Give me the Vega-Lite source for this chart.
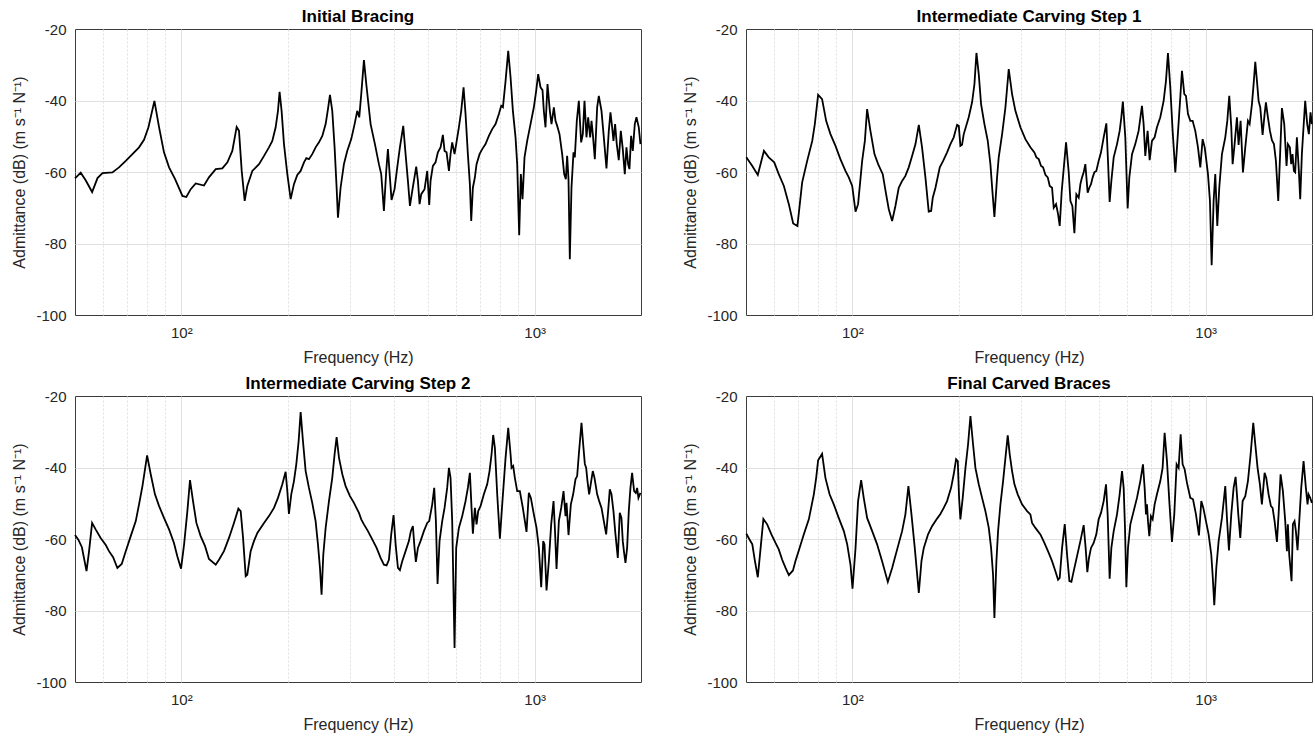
{
"$schema": "https://vega.github.io/schema/vega-lite/v6.json",
"background": "white",
"padding": {"left": 11, "top": 7, "right": 4, "bottom": 2},
"config": {
  "view": {"stroke": "#3c3c3c", "strokeWidth": 1},
  "axis": {"labelFont": "Liberation Sans", "titleFont": "Liberation Sans", "labelFontSize": 15, "titleFontSize": 16, "labelColor": "#262626", "titleColor": "#262626", "titleFontWeight": "normal", "domain": false, "ticks": false, "gridColor": "#e0e0e0", "gridWidth": 1},
  "axisX": {"labelPadding": 10, "titlePadding": 9},
  "axisY": {"labelPadding": 9, "titlePadding": 8},
  "title": {"font": "Liberation Sans", "fontSize": 17, "fontWeight": "bold", "color": "#000000", "offset": -4},
  "line": {"color": "#000000", "strokeWidth": 1.8, "clip": true}
},
"datasets": {"d": [
{"panel":"A","freq":50.0,"dB":-61.8},{"panel":"A","freq":51.9,"dB":-60.2},{"panel":"A","freq":53.6,"dB":-62.3},{"panel":"A","freq":55.9,"dB":-65.6},{"panel":"A","freq":57.9,"dB":-61.7},{"panel":"A","freq":59.8,"dB":-60.3},{"panel":"A","freq":63.8,"dB":-60.1},{"panel":"A","freq":66.6,"dB":-58.7},{"panel":"A","freq":69.6,"dB":-56.9},{"panel":"A","freq":72.7,"dB":-55.0},{"panel":"A","freq":75.9,"dB":-53.1},{"panel":"A","freq":78.4,"dB":-51.0},{"panel":"A","freq":80.7,"dB":-47.5},{"panel":"A","freq":83.9,"dB":-40.1},{"panel":"A","freq":86.5,"dB":-47.5},{"panel":"A","freq":89.3,"dB":-54.5},{"panel":"A","freq":92.3,"dB":-58.7},{"panel":"A","freq":96.0,"dB":-62.0},{"panel":"A","freq":100.7,"dB":-66.7},{"panel":"A","freq":103.3,"dB":-67.0},{"panel":"A","freq":106.3,"dB":-64.8},{"panel":"A","freq":109.8,"dB":-63.2},{"panel":"A","freq":115.9,"dB":-63.8},{"panel":"A","freq":119.7,"dB":-61.5},{"panel":"A","freq":125.1,"dB":-59.2},{"panel":"A","freq":130.6,"dB":-59.0},{"panel":"A","freq":135.0,"dB":-57.3},{"panel":"A","freq":139.4,"dB":-54.1},{"panel":"A","freq":143.4,"dB":-47.4},{"panel":"A","freq":145.6,"dB":-48.5},{"panel":"A","freq":148.2,"dB":-59.7},{"panel":"A","freq":151.1,"dB":-68.1},{"panel":"A","freq":153.7,"dB":-63.9},{"panel":"A","freq":158.8,"dB":-59.7},{"panel":"A","freq":165.9,"dB":-57.8},
{"panel":"A","freq":171.4,"dB":-55.5},{"panel":"A","freq":177.0,"dB":-53.1},{"panel":"A","freq":180.9,"dB":-51.3},{"panel":"A","freq":184.9,"dB":-47.5},{"panel":"A","freq":187.7,"dB":-42.9},{"panel":"A","freq":189.7,"dB":-37.6},{"panel":"A","freq":192.2,"dB":-42.9},{"panel":"A","freq":195.2,"dB":-52.2},{"panel":"A","freq":199.5,"dB":-60.6},{"panel":"A","freq":203.9,"dB":-67.6},{"panel":"A","freq":208.3,"dB":-63.4},{"panel":"A","freq":212.9,"dB":-60.8},{"panel":"A","freq":217.6,"dB":-59.7},{"panel":"A","freq":222.4,"dB":-57.3},{"panel":"A","freq":225.8,"dB":-56.1},{"panel":"A","freq":229.7,"dB":-56.4},{"panel":"A","freq":234.7,"dB":-55.0},{"panel":"A","freq":239.9,"dB":-53.1},{"panel":"A","freq":245.2,"dB":-51.7},{"panel":"A","freq":250.6,"dB":-49.9},{"panel":"A","freq":256.1,"dB":-46.6},{"panel":"A","freq":260.0,"dB":-42.4},{"panel":"A","freq":263.4,"dB":-38.4},{"panel":"A","freq":267.4,"dB":-42.9},{"panel":"A","freq":271.5,"dB":-53.1},{"panel":"A","freq":275.1,"dB":-64.4},{"panel":"A","freq":277.5,"dB":-72.8},{"panel":"A","freq":282.3,"dB":-64.4},{"panel":"A","freq":288.5,"dB":-57.8},{"panel":"A","freq":294.8,"dB":-54.1},{"panel":"A","freq":302.6,"dB":-50.8},{"panel":"A","freq":309.3,"dB":-46.6},{"panel":"A","freq":314.7,"dB":-42.9},{"panel":"A","freq":318.8,"dB":-44.7},{"panel":"A","freq":323.0,"dB":-38.2},{"panel":"A","freq":328.7,"dB":-28.7},{"panel":"A","freq":334.5,"dB":-36.3},{"panel":"A","freq":343.3,"dB":-46.6},{"panel":"A","freq":353.1,"dB":-52.2},{"panel":"A","freq":362.4,"dB":-57.8},{"panel":"A","freq":367.9,"dB":-60.6},{"panel":"A","freq":374.4,"dB":-70.9},{"panel":"A","freq":380.1,"dB":-59.7},{"panel":"A","freq":384.3,"dB":-53.6},{"panel":"A","freq":389.3,"dB":-61.5},{"panel":"A","freq":393.5,"dB":-67.8},{"panel":"A","freq":401.3,"dB":-64.8},{"panel":"A","freq":408.4,"dB":-58.7},{"panel":"A","freq":415.5,"dB":-53.1},{"panel":"A","freq":424.7,"dB":-47.1},{"panel":"A","freq":431.2,"dB":-55.0},{"panel":"A","freq":437.8,"dB":-62.5},{"panel":"A","freq":443.6,"dB":-69.5},{"panel":"A","freq":450.4,"dB":-65.3},{"panel":"A","freq":455.2,"dB":-62.5},{"panel":"A","freq":462.2,"dB":-58.5},{"panel":"A","freq":467.3,"dB":-62.5},{"panel":"A","freq":472.4,"dB":-69.0},{"panel":"A","freq":477.5,"dB":-66.2},{"panel":"A","freq":488.0,"dB":-64.8},{"panel":"A","freq":496.5,"dB":-59.7},{"panel":"A","freq":503.0,"dB":-69.2},{"panel":"A","freq":507.4,"dB":-62.5},{"panel":"A","freq":515.2,"dB":-58.3},{"panel":"A","freq":524.2,"dB":-57.3},{"panel":"A","freq":532.2,"dB":-54.5},{"panel":"A","freq":541.5,"dB":-53.1},{"panel":"A","freq":549.9,"dB":-49.6},{"panel":"A","freq":555.9,"dB":-54.1},{"panel":"A","freq":563.2,"dB":-54.5},
{"panel":"A","freq":572.0,"dB":-59.7},{"panel":"A","freq":578.0,"dB":-55.0},{"panel":"A","freq":584.3,"dB":-51.7},{"panel":"A","freq":593.3,"dB":-55.0},{"panel":"A","freq":599.7,"dB":-52.2},{"panel":"A","freq":610.3,"dB":-47.5},{"panel":"A","freq":619.7,"dB":-42.9},{"panel":"A","freq":629.2,"dB":-36.3},{"panel":"A","freq":637.4,"dB":-43.8},{"panel":"A","freq":647.1,"dB":-55.0},{"panel":"A","freq":655.7,"dB":-63.4},{"panel":"A","freq":661.4,"dB":-73.7},{"panel":"A","freq":668.6,"dB":-64.4},{"panel":"A","freq":677.4,"dB":-61.5},{"panel":"A","freq":684.8,"dB":-57.8},{"panel":"A","freq":698.3,"dB":-55.0},{"panel":"A","freq":710.6,"dB":-53.6},{"panel":"A","freq":726.1,"dB":-52.2},{"panel":"A","freq":742.1,"dB":-49.9},{"panel":"A","freq":758.4,"dB":-48.0},{"panel":"A","freq":775.1,"dB":-46.6},{"panel":"A","freq":792.1,"dB":-43.8},{"panel":"A","freq":804.3,"dB":-41.5},{"panel":"A","freq":813.2,"dB":-41.9},{"panel":"A","freq":827.4,"dB":-34.5},{"panel":"A","freq":841.8,"dB":-26.1},{"panel":"A","freq":854.7,"dB":-33.5},{"panel":"A","freq":867.8,"dB":-42.9},{"panel":"A","freq":882.9,"dB":-50.3},{"panel":"A","freq":892.5,"dB":-57.8},{"panel":"A","freq":904.2,"dB":-77.7},{"panel":"A","freq":914.0,"dB":-60.6},{"panel":"A","freq":924.0,"dB":-67.6},{"panel":"A","freq":936.1,"dB":-55.9},{"panel":"A","freq":952.6,"dB":-51.3},{"panel":"A","freq":973.5,"dB":-46.6},{"panel":"A","freq":994.8,"dB":-41.9},{"panel":"A","freq":1010.1,"dB":-37.3},{"panel":"A","freq":1023.2,"dB":-32.6},{"panel":"A","freq":1038.9,"dB":-36.3},{"panel":"A","freq":1052.6,"dB":-37.1},{"panel":"A","freq":1061.7,"dB":-42.9},{"panel":"A","freq":1073.3,"dB":-47.5},{"panel":"A","freq":1087.4,"dB":-35.4},{"panel":"A","freq":1104.1,"dB":-42.9},{"panel":"A","freq":1116.1,"dB":-46.6},{"panel":"A","freq":1133.3,"dB":-41.9},{"panel":"A","freq":1145.6,"dB":-45.7},{"panel":"A","freq":1158.1,"dB":-47.1},{"panel":"A","freq":1175.9,"dB":-49.4},{"panel":"A","freq":1196.5,"dB":-55.0},{"panel":"A","freq":1212.3,"dB":-60.6},{"panel":"A","freq":1225.5,"dB":-62.0},{"panel":"A","freq":1236.0,"dB":-55.5},{"panel":"A","freq":1246.8,"dB":-62.0},{"panel":"A","freq":1257.6,"dB":-84.4},{"panel":"A","freq":1271.3,"dB":-64.4},{"panel":"A","freq":1288.1,"dB":-54.5},{"panel":"A","freq":1299.2,"dB":-55.9},{"panel":"A","freq":1316.3,"dB":-45.7},{"panel":"A","freq":1333.6,"dB":-40.1},{"panel":"A","freq":1354.1,"dB":-51.7},{"panel":"A","freq":1368.9,"dB":-49.4},{"panel":"A","freq":1383.9,"dB":-40.1},{"panel":"A","freq":1401.9,"dB":-50.3},{"panel":"A","freq":1417.4,"dB":-44.7},{"panel":"A","freq":1436.0,"dB":-50.3},{"panel":"A","freq":1448.6,"dB":-45.7},{"panel":"A","freq":1461.0,"dB":-49.4},{"panel":"A","freq":1480.2,"dB":-56.4},{"panel":"A","freq":1502.9,"dB":-41.9},{"panel":"A","freq":1519.2,"dB":-38.7},{"panel":"A","freq":1546.0,"dB":-42.9},{"panel":"A","freq":1569.6,"dB":-50.3},{"panel":"A","freq":1596.9,"dB":-59.0},{"panel":"A","freq":1621.4,"dB":-48.5},{"panel":"A","freq":1639.1,"dB":-43.3},{"panel":"A","freq":1657.1,"dB":-47.5},{"panel":"A","freq":1671.4,"dB":-51.3},{"panel":"A","freq":1689.5,"dB":-46.6},{"panel":"A","freq":1707.8,"dB":-52.2},{"panel":"A","freq":1730.3,"dB":-56.7},{"panel":"A","freq":1753.3,"dB":-48.5},{"panel":"A","freq":1776.1,"dB":-53.6},{"panel":"A","freq":1799.5,"dB":-60.6},{"panel":"A","freq":1819.1,"dB":-53.1},{"panel":"A","freq":1838.9,"dB":-57.8},{"panel":"A","freq":1855.0,"dB":-59.2},{"panel":"A","freq":1875.3,"dB":-49.9},{"panel":"A","freq":1895.7,"dB":-54.1},{"panel":"A","freq":1920.7,"dB":-46.6},{"panel":"A","freq":1941.6,"dB":-44.7},{"panel":"A","freq":1971.4,"dB":-47.5},{"panel":"A","freq":1992.6,"dB":-52.2},
{"panel":"B","freq":50.1,"dB":-55.9},{"panel":"B","freq":52.1,"dB":-58.3},{"panel":"B","freq":54.0,"dB":-60.8},{"panel":"B","freq":56.2,"dB":-54.1},{"panel":"B","freq":58.0,"dB":-55.9},{"panel":"B","freq":60.1,"dB":-57.3},{"panel":"B","freq":61.9,"dB":-60.6},{"panel":"B","freq":64.0,"dB":-63.9},{"panel":"B","freq":66.1,"dB":-69.0},{"panel":"B","freq":68.0,"dB":-74.4},{"panel":"B","freq":69.9,"dB":-75.1},{"panel":"B","freq":72.1,"dB":-62.9},{"panel":"B","freq":74.5,"dB":-56.9},{"panel":"B","freq":77.0,"dB":-51.3},{"panel":"B","freq":78.3,"dB":-46.6},{"panel":"B","freq":80.0,"dB":-38.4},{"panel":"B","freq":82.1,"dB":-39.6},{"panel":"B","freq":84.3,"dB":-45.7},{"panel":"B","freq":86.7,"dB":-49.4},{"panel":"B","freq":89.6,"dB":-52.7},{"panel":"B","freq":92.5,"dB":-56.4},{"panel":"B","freq":95.6,"dB":-59.7},{"panel":"B","freq":97.7,"dB":-61.5},{"panel":"B","freq":99.9,"dB":-63.9},{"panel":"B","freq":102.1,"dB":-71.1},{"panel":"B","freq":103.8,"dB":-69.0},{"panel":"B","freq":106.6,"dB":-56.9},{"panel":"B","freq":108.5,"dB":-51.3},{"panel":"B","freq":110.1,"dB":-42.4},{"panel":"B","freq":112.5,"dB":-48.5},{"panel":"B","freq":115.5,"dB":-55.0},{"panel":"B","freq":118.3,"dB":-57.8},{"panel":"B","freq":121.9,"dB":-60.6},{"panel":"B","freq":124.6,"dB":-66.2},{"panel":"B","freq":126.8,"dB":-70.4},{"panel":"B","freq":129.6,"dB":-73.7},{"panel":"B","freq":132.4,"dB":-69.5},{"panel":"B","freq":135.3,"dB":-64.4},{"panel":"B","freq":138.3,"dB":-62.5},{"panel":"B","freq":141.3,"dB":-61.1},{"panel":"B","freq":144.4,"dB":-58.7},{"panel":"B","freq":147.6,"dB":-55.5},{"panel":"B","freq":150.9,"dB":-52.2},{"panel":"B","freq":154.2,"dB":-46.8},{"panel":"B","freq":157.5,"dB":-53.1},{"panel":"B","freq":161.0,"dB":-61.5},{"panel":"B","freq":164.5,"dB":-71.1},{"panel":"B","freq":167.1,"dB":-70.9},{"panel":"B","freq":168.9,"dB":-67.2},{"panel":"B","freq":171.9,"dB":-64.4},
{"panel":"B","freq":176.8,"dB":-58.7},{"panel":"B","freq":180.7,"dB":-56.9},{"panel":"B","freq":185.4,"dB":-54.5},{"panel":"B","freq":189.5,"dB":-52.2},{"panel":"B","freq":193.6,"dB":-50.3},{"panel":"B","freq":197.9,"dB":-46.8},{"panel":"B","freq":200.1,"dB":-47.1},{"panel":"B","freq":202.2,"dB":-52.7},{"panel":"B","freq":204.4,"dB":-52.4},{"panel":"B","freq":206.7,"dB":-49.4},{"panel":"B","freq":213.5,"dB":-44.7},{"panel":"B","freq":218.2,"dB":-40.5},{"panel":"B","freq":221.6,"dB":-35.4},{"panel":"B","freq":224.5,"dB":-26.7},{"panel":"B","freq":227.9,"dB":-32.6},{"panel":"B","freq":231.4,"dB":-41.0},{"panel":"B","freq":236.5,"dB":-46.6},{"panel":"B","freq":241.7,"dB":-51.3},{"panel":"B","freq":245.9,"dB":-57.8},{"panel":"B","freq":249.1,"dB":-65.3},{"panel":"B","freq":252.4,"dB":-72.6},{"panel":"B","freq":256.8,"dB":-61.5},{"panel":"B","freq":259.6,"dB":-55.9},{"panel":"B","freq":265.4,"dB":-49.4},{"panel":"B","freq":271.2,"dB":-41.9},{"panel":"B","freq":277.1,"dB":-31.2},{"panel":"B","freq":283.2,"dB":-38.2},{"panel":"B","freq":289.4,"dB":-42.9},{"panel":"B","freq":299.0,"dB":-47.5},{"panel":"B","freq":308.9,"dB":-50.8},{"panel":"B","freq":319.1,"dB":-53.1},{"panel":"B","freq":327.5,"dB":-54.5},{"panel":"B","freq":331.9,"dB":-55.9},{"panel":"B","freq":336.9,"dB":-56.4},{"panel":"B","freq":342.1,"dB":-58.3},{"panel":"B","freq":346.6,"dB":-58.7},{"panel":"B","freq":351.9,"dB":-60.8},{"panel":"B","freq":357.3,"dB":-61.5},{"panel":"B","freq":362.0,"dB":-63.9},{"panel":"B","freq":367.5,"dB":-64.4},{"panel":"B","freq":371.5,"dB":-70.0},{"panel":"B","freq":377.2,"dB":-69.0},{"panel":"B","freq":382.2,"dB":-71.8},{"panel":"B","freq":386.3,"dB":-75.1},{"panel":"B","freq":391.4,"dB":-65.3},{"panel":"B","freq":402.6,"dB":-51.7},{"panel":"B","freq":409.7,"dB":-60.1},{"panel":"B","freq":414.2,"dB":-68.1},{"panel":"B","freq":419.5,"dB":-69.5},{"panel":"B","freq":425.1,"dB":-77.1},{"panel":"B","freq":430.5,"dB":-66.2},{"panel":"B","freq":437.2,"dB":-67.2},{"panel":"B","freq":442.0,"dB":-63.4},{"panel":"B","freq":446.8,"dB":-61.5},{"panel":"B","freq":451.6,"dB":-60.1},{"panel":"B","freq":456.5,"dB":-57.8},{"panel":"B","freq":463.5,"dB":-65.8},{"panel":"B","freq":468.6,"dB":-64.4},{"panel":"B","freq":473.7,"dB":-63.4},{"panel":"B","freq":478.9,"dB":-61.5},{"panel":"B","freq":484.1,"dB":-60.1},{"panel":"B","freq":490.4,"dB":-59.7},{"panel":"B","freq":497.9,"dB":-56.9},{"panel":"B","freq":505.6,"dB":-54.5},{"panel":"B","freq":514.5,"dB":-50.3},{"panel":"B","freq":523.5,"dB":-46.4},{"panel":"B","freq":529.2,"dB":-56.9},{"panel":"B","freq":534.9,"dB":-68.4},{"panel":"B","freq":540.9,"dB":-62.5},{"panel":"B","freq":549.2,"dB":-55.9},{"panel":"B","freq":561.2,"dB":-52.2},{"panel":"B","freq":571.0,"dB":-48.5},{"panel":"B","freq":577.2,"dB":-44.7},
{"panel":"B","freq":583.0,"dB":-40.3},{"panel":"B","freq":592.4,"dB":-50.3},{"panel":"B","freq":601.5,"dB":-70.2},{"panel":"B","freq":608.1,"dB":-61.5},{"panel":"B","freq":618.9,"dB":-55.0},{"panel":"B","freq":632.2,"dB":-52.2},{"panel":"B","freq":646.0,"dB":-48.5},{"panel":"B","freq":660.3,"dB":-41.5},{"panel":"B","freq":667.5,"dB":-46.6},{"panel":"B","freq":674.8,"dB":-55.5},{"panel":"B","freq":685.1,"dB":-48.5},{"panel":"B","freq":694.2,"dB":-56.7},{"panel":"B","freq":704.8,"dB":-51.3},{"panel":"B","freq":717.1,"dB":-50.3},{"panel":"B","freq":728.1,"dB":-47.5},{"panel":"B","freq":744.1,"dB":-44.7},{"panel":"B","freq":760.5,"dB":-40.1},{"panel":"B","freq":772.2,"dB":-34.5},{"panel":"B","freq":782.2,"dB":-26.7},{"panel":"B","freq":794.2,"dB":-36.3},{"panel":"B","freq":806.4,"dB":-48.5},{"panel":"B","freq":820.6,"dB":-60.1},{"panel":"B","freq":833.2,"dB":-50.3},{"panel":"B","freq":847.7,"dB":-39.1},{"panel":"B","freq":857.0,"dB":-31.7},{"panel":"B","freq":870.1,"dB":-38.2},{"panel":"B","freq":879.6,"dB":-38.7},{"panel":"B","freq":891.2,"dB":-43.8},{"panel":"B","freq":904.9,"dB":-45.7},{"panel":"B","freq":918.7,"dB":-45.7},{"panel":"B","freq":934.7,"dB":-48.5},{"panel":"B","freq":951.2,"dB":-53.1},{"panel":"B","freq":965.8,"dB":-58.7},{"panel":"B","freq":980.6,"dB":-50.8},{"panel":"B","freq":993.6,"dB":-53.1},{"panel":"B","freq":1002.0,"dB":-55.9},{"panel":"B","freq":1015.3,"dB":-60.6},{"panel":"B","freq":1028.5,"dB":-68.1},{"panel":"B","freq":1039.9,"dB":-86.1},{"panel":"B","freq":1053.3,"dB":-68.1},{"panel":"B","freq":1064.7,"dB":-60.6},{"panel":"B","freq":1078.8,"dB":-75.1},{"panel":"B","freq":1092.8,"dB":-64.4},{"panel":"B","freq":1112.1,"dB":-55.0},{"panel":"B","freq":1136.5,"dB":-50.3},{"panel":"B","freq":1151.5,"dB":-45.7},{"panel":"B","freq":1166.4,"dB":-38.7},{"panel":"B","freq":1181.8,"dB":-47.5},{"panel":"B","freq":1192.2,"dB":-57.8},{"panel":"B","freq":1207.7,"dB":-52.2},{"panel":"B","freq":1226.2,"dB":-44.7},{"panel":"B","freq":1239.5,"dB":-52.4},{"panel":"B","freq":1255.9,"dB":-45.7},{"panel":"B","freq":1275.1,"dB":-60.1},{"panel":"B","freq":1294.7,"dB":-53.1},{"panel":"B","freq":1317.3,"dB":-45.7},{"panel":"B","freq":1331.9,"dB":-46.6},{"panel":"B","freq":1352.3,"dB":-41.0},{"panel":"B","freq":1367.0,"dB":-35.4},{"panel":"B","freq":1381.9,"dB":-29.2},{"panel":"B","freq":1397.0,"dB":-34.5},{"panel":"B","freq":1412.1,"dB":-40.1},{"panel":"B","freq":1427.5,"dB":-41.9},{"panel":"B","freq":1449.4,"dB":-49.6},{"panel":"B","freq":1468.5,"dB":-43.8},{"panel":"B","freq":1481.1,"dB":-40.5},{"panel":"B","freq":1500.6,"dB":-44.7},{"panel":"B","freq":1520.5,"dB":-48.5},{"panel":"B","freq":1540.2,"dB":-51.1},{"panel":"B","freq":1560.6,"dB":-52.2},{"panel":"B","freq":1580.8,"dB":-56.9},{"panel":"B","freq":1605.0,"dB":-68.1},{"panel":"B","freq":1626.2,"dB":-54.1},{"panel":"B","freq":1643.9,"dB":-42.1},{"panel":"B","freq":1669.1,"dB":-46.6},{"panel":"B","freq":1694.2,"dB":-58.3},{"panel":"B","freq":1709.1,"dB":-52.2},{"panel":"B","freq":1731.3,"dB":-53.1},{"panel":"B","freq":1746.5,"dB":-57.8},{"panel":"B","freq":1761.8,"dB":-55.0},{"panel":"B","freq":1777.3,"dB":-59.7},{"panel":"B","freq":1792.5,"dB":-60.1},{"panel":"B","freq":1812.4,"dB":-50.3},{"panel":"B","freq":1835.9,"dB":-59.7},{"panel":"B","freq":1852.1,"dB":-67.6},{"panel":"B","freq":1872.2,"dB":-55.0},{"panel":"B","freq":1892.6,"dB":-47.5},{"panel":"B","freq":1913.2,"dB":-40.1},{"panel":"B","freq":1938.5,"dB":-46.6},{"panel":"B","freq":1959.6,"dB":-49.4},{"panel":"B","freq":1980.9,"dB":-43.3},{"panel":"B","freq":1998.3,"dB":-46.6},
{"panel":"C","freq":50.0,"dB":-58.9},{"panel":"C","freq":51.1,"dB":-60.2},{"panel":"C","freq":52.3,"dB":-62.3},{"panel":"C","freq":53.9,"dB":-69.0},{"panel":"C","freq":54.8,"dB":-63.4},{"panel":"C","freq":55.9,"dB":-55.5},{"panel":"C","freq":57.2,"dB":-57.3},{"panel":"C","freq":59.1,"dB":-59.7},{"panel":"C","freq":61.1,"dB":-61.7},{"panel":"C","freq":62.4,"dB":-63.4},{"panel":"C","freq":64.1,"dB":-65.1},{"panel":"C","freq":65.9,"dB":-68.1},{"panel":"C","freq":67.8,"dB":-67.0},{"panel":"C","freq":69.6,"dB":-63.4},{"panel":"C","freq":71.9,"dB":-59.2},{"panel":"C","freq":74.3,"dB":-55.0},{"panel":"C","freq":75.9,"dB":-50.3},{"panel":"C","freq":77.6,"dB":-45.2},{"panel":"C","freq":80.0,"dB":-36.6},{"panel":"C","freq":81.9,"dB":-41.9},{"panel":"C","freq":84.2,"dB":-47.5},{"panel":"C","freq":86.5,"dB":-50.8},{"panel":"C","freq":89.3,"dB":-54.1},{"panel":"C","freq":92.3,"dB":-57.3},{"panel":"C","freq":95.3,"dB":-61.1},{"panel":"C","freq":97.4,"dB":-64.8},{"panel":"C","freq":99.8,"dB":-68.3},{"panel":"C","freq":101.8,"dB":-61.5},{"panel":"C","freq":104.0,"dB":-52.2},{"panel":"C","freq":105.8,"dB":-43.5},{"panel":"C","freq":107.9,"dB":-49.4},{"panel":"C","freq":110.3,"dB":-55.5},{"panel":"C","freq":113.4,"dB":-59.2},{"panel":"C","freq":116.7,"dB":-62.0},{"panel":"C","freq":119.7,"dB":-65.6},{"panel":"C","freq":125.1,"dB":-67.2},{"panel":"C","freq":127.8,"dB":-65.8},{"panel":"C","freq":132.0,"dB":-63.4},{"panel":"C","freq":136.4,"dB":-59.7},{"panel":"C","freq":140.9,"dB":-55.5},{"panel":"C","freq":145.0,"dB":-51.5},{"panel":"C","freq":147.2,"dB":-52.2},{"panel":"C","freq":149.5,"dB":-59.7},{"panel":"C","freq":152.1,"dB":-70.4},{"panel":"C","freq":153.7,"dB":-70.0},{"panel":"C","freq":157.1,"dB":-63.4},{"panel":"C","freq":160.5,"dB":-60.6},{"panel":"C","freq":164.1,"dB":-58.3},
{"panel":"C","freq":171.4,"dB":-55.5},{"panel":"C","freq":177.0,"dB":-53.6},{"panel":"C","freq":182.9,"dB":-51.3},{"panel":"C","freq":187.7,"dB":-48.5},{"panel":"C","freq":193.1,"dB":-44.7},{"panel":"C","freq":197.3,"dB":-41.2},{"panel":"C","freq":199.5,"dB":-46.6},{"panel":"C","freq":201.6,"dB":-53.0},{"panel":"C","freq":204.7,"dB":-47.5},{"panel":"C","freq":208.3,"dB":-43.8},{"panel":"C","freq":211.5,"dB":-39.1},{"panel":"C","freq":214.8,"dB":-32.6},{"panel":"C","freq":217.6,"dB":-24.5},{"panel":"C","freq":220.9,"dB":-32.6},{"panel":"C","freq":224.8,"dB":-41.0},{"panel":"C","freq":229.7,"dB":-45.7},{"panel":"C","freq":234.7,"dB":-49.9},{"panel":"C","freq":239.9,"dB":-55.0},{"panel":"C","freq":243.6,"dB":-61.5},{"panel":"C","freq":246.8,"dB":-68.1},{"panel":"C","freq":249.4,"dB":-75.6},{"panel":"C","freq":252.2,"dB":-64.4},{"panel":"C","freq":256.1,"dB":-56.9},{"panel":"C","freq":261.7,"dB":-49.4},{"panel":"C","freq":267.4,"dB":-42.9},{"panel":"C","freq":271.5,"dB":-36.3},{"panel":"C","freq":275.1,"dB":-31.5},{"panel":"C","freq":279.4,"dB":-37.3},{"panel":"C","freq":285.5,"dB":-41.9},{"panel":"C","freq":291.7,"dB":-45.2},{"panel":"C","freq":300.1,"dB":-48.0},{"panel":"C","freq":308.0,"dB":-49.9},{"panel":"C","freq":318.2,"dB":-52.7},{"panel":"C","freq":323.0,"dB":-54.5},{"panel":"C","freq":328.7,"dB":-55.9},{"panel":"C","freq":337.4,"dB":-57.8},{"panel":"C","freq":347.0,"dB":-60.1},{"panel":"C","freq":357.0,"dB":-62.5},{"panel":"C","freq":366.4,"dB":-65.3},{"panel":"C","freq":374.4,"dB":-67.2},{"panel":"C","freq":381.0,"dB":-67.4},{"panel":"C","freq":386.8,"dB":-65.8},{"panel":"C","freq":392.7,"dB":-58.7},{"panel":"C","freq":398.7,"dB":-53.3},{"panel":"C","freq":404.1,"dB":-61.5},{"panel":"C","freq":410.2,"dB":-68.1},{"panel":"C","freq":415.5,"dB":-68.7},{"panel":"C","freq":421.9,"dB":-66.2},{"panel":"C","freq":431.2,"dB":-63.4},{"panel":"C","freq":440.6,"dB":-60.6},{"panel":"C","freq":446.3,"dB":-57.8},{"panel":"C","freq":452.2,"dB":-56.4},{"panel":"C","freq":457.1,"dB":-62.5},{"panel":"C","freq":461.1,"dB":-66.4},{"panel":"C","freq":467.3,"dB":-62.5},{"panel":"C","freq":475.3,"dB":-60.6},{"panel":"C","freq":485.8,"dB":-57.8},{"panel":"C","freq":496.5,"dB":-55.5},{"panel":"C","freq":503.0,"dB":-55.0},{"panel":"C","freq":513.0,"dB":-50.3},{"panel":"C","freq":519.7,"dB":-45.7},{"panel":"C","freq":525.4,"dB":-55.0},{"panel":"C","freq":531.1,"dB":-72.6},{"panel":"C","freq":538.0,"dB":-60.6},{"panel":"C","freq":547.5,"dB":-55.0},{"panel":"C","freq":555.9,"dB":-51.3},{"panel":"C","freq":565.5,"dB":-45.7},
{"panel":"C","freq":572.0,"dB":-40.1},{"panel":"C","freq":578.0,"dB":-42.9},{"panel":"C","freq":584.3,"dB":-55.0},{"panel":"C","freq":593.3,"dB":-90.5},{"panel":"C","freq":599.7,"dB":-62.5},{"panel":"C","freq":610.3,"dB":-56.9},{"panel":"C","freq":623.7,"dB":-53.6},{"panel":"C","freq":637.4,"dB":-49.4},{"panel":"C","freq":647.1,"dB":-45.7},{"panel":"C","freq":655.7,"dB":-41.5},{"panel":"C","freq":662.8,"dB":-51.3},{"panel":"C","freq":668.6,"dB":-58.5},{"panel":"C","freq":677.4,"dB":-51.3},{"panel":"C","freq":684.8,"dB":-55.9},{"panel":"C","freq":692.2,"dB":-52.2},{"panel":"C","freq":702.8,"dB":-50.8},{"panel":"C","freq":718.2,"dB":-47.5},{"panel":"C","freq":734.0,"dB":-44.7},{"panel":"C","freq":745.3,"dB":-41.0},{"panel":"C","freq":755.1,"dB":-36.3},{"panel":"C","freq":763.3,"dB":-30.9},{"panel":"C","freq":771.7,"dB":-34.5},{"panel":"C","freq":783.5,"dB":-47.5},{"panel":"C","freq":797.3,"dB":-59.9},{"panel":"C","freq":809.5,"dB":-50.3},{"panel":"C","freq":827.3,"dB":-37.3},{"panel":"C","freq":841.8,"dB":-28.9},{"panel":"C","freq":854.7,"dB":-36.3},{"panel":"C","freq":860.2,"dB":-40.1},{"panel":"C","freq":869.6,"dB":-39.6},{"panel":"C","freq":879.0,"dB":-42.9},{"panel":"C","freq":892.5,"dB":-46.6},{"panel":"C","freq":908.0,"dB":-46.6},{"panel":"C","freq":925.9,"dB":-51.3},{"panel":"C","freq":948.4,"dB":-58.0},{"panel":"C","freq":962.9,"dB":-47.1},{"panel":"C","freq":975.6,"dB":-48.5},{"panel":"C","freq":994.8,"dB":-53.1},{"panel":"C","freq":1012.3,"dB":-56.9},{"panel":"C","freq":1027.8,"dB":-62.5},{"panel":"C","freq":1043.6,"dB":-73.5},{"panel":"C","freq":1057.4,"dB":-60.6},{"panel":"C","freq":1066.4,"dB":-61.5},{"panel":"C","freq":1080.5,"dB":-74.4},{"panel":"C","freq":1097.0,"dB":-66.2},{"panel":"C","freq":1113.8,"dB":-55.9},{"panel":"C","freq":1131.0,"dB":-49.4},{"panel":"C","freq":1140.9,"dB":-56.9},{"panel":"C","freq":1153.3,"dB":-68.4},{"panel":"C","freq":1171.0,"dB":-55.0},{"panel":"C","freq":1188.9,"dB":-51.3},{"panel":"C","freq":1207.2,"dB":-46.6},{"panel":"C","freq":1222.9,"dB":-53.6},{"panel":"C","freq":1231.0,"dB":-49.9},{"panel":"C","freq":1247.0,"dB":-58.9},{"panel":"C","freq":1266.1,"dB":-50.3},{"panel":"C","freq":1285.2,"dB":-47.5},{"panel":"C","freq":1304.9,"dB":-43.3},{"panel":"C","freq":1319.2,"dB":-42.4},{"panel":"C","freq":1333.8,"dB":-36.3},{"panel":"C","freq":1357.0,"dB":-27.5},{"panel":"C","freq":1372.0,"dB":-33.5},{"panel":"C","freq":1386.9,"dB":-39.0},{"panel":"C","freq":1399.1,"dB":-40.1},{"panel":"C","freq":1411.1,"dB":-43.8},{"panel":"C","freq":1426.5,"dB":-47.5},{"panel":"C","freq":1448.4,"dB":-43.3},{"panel":"C","freq":1460.8,"dB":-41.0},{"panel":"C","freq":1477.0,"dB":-42.9},{"panel":"C","freq":1503.0,"dB":-47.5},{"panel":"C","freq":1522.8,"dB":-49.4},{"panel":"C","freq":1546.1,"dB":-51.3},{"panel":"C","freq":1569.7,"dB":-55.0},{"panel":"C","freq":1593.8,"dB":-58.7},{"panel":"C","freq":1614.3,"dB":-52.2},{"panel":"C","freq":1631.9,"dB":-46.1},{"panel":"C","freq":1649.8,"dB":-47.5},{"panel":"C","freq":1671.4,"dB":-52.2},{"panel":"C","freq":1693.4,"dB":-58.7},{"panel":"C","freq":1719.4,"dB":-65.3},{"panel":"C","freq":1741.7,"dB":-52.7},{"panel":"C","freq":1760.6,"dB":-54.1},{"panel":"C","freq":1776.1,"dB":-60.6},{"panel":"C","freq":1791.7,"dB":-63.9},{"panel":"C","freq":1807.5,"dB":-66.7},{"panel":"C","freq":1827.1,"dB":-62.5},{"panel":"C","freq":1847.0,"dB":-52.2},{"panel":"C","freq":1867.1,"dB":-45.7},{"panel":"C","freq":1887.4,"dB":-41.5},{"panel":"C","freq":1912.3,"dB":-46.6},{"panel":"C","freq":1933.2,"dB":-47.1},{"panel":"C","freq":1950.2,"dB":-45.7},{"panel":"C","freq":1966.9,"dB":-48.5},{"panel":"C","freq":1992.6,"dB":-47.1},
{"panel":"D","freq":50.1,"dB":-58.5},{"panel":"D","freq":51.2,"dB":-60.2},{"panel":"D","freq":52.1,"dB":-61.5},{"panel":"D","freq":53.0,"dB":-66.2},{"panel":"D","freq":54.0,"dB":-70.7},{"panel":"D","freq":55.0,"dB":-62.5},{"panel":"D","freq":56.0,"dB":-54.4},{"panel":"D","freq":57.4,"dB":-55.9},{"panel":"D","freq":59.0,"dB":-58.7},{"panel":"D","freq":60.6,"dB":-61.1},{"panel":"D","freq":61.9,"dB":-62.9},{"panel":"D","freq":63.3,"dB":-65.8},{"panel":"D","freq":64.7,"dB":-68.1},{"panel":"D","freq":66.1,"dB":-70.1},{"panel":"D","freq":67.9,"dB":-68.8},{"panel":"D","freq":69.0,"dB":-66.2},{"panel":"D","freq":70.9,"dB":-62.5},{"panel":"D","freq":72.9,"dB":-58.7},{"panel":"D","freq":75.3,"dB":-54.5},{"panel":"D","freq":77.8,"dB":-47.5},{"panel":"D","freq":79.0,"dB":-42.9},{"panel":"D","freq":80.0,"dB":-38.0},{"panel":"D","freq":82.1,"dB":-36.2},{"panel":"D","freq":83.9,"dB":-42.9},{"panel":"D","freq":86.2,"dB":-47.5},{"panel":"D","freq":88.6,"dB":-50.3},{"panel":"D","freq":91.5,"dB":-54.1},{"panel":"D","freq":94.6,"dB":-57.8},{"panel":"D","freq":96.7,"dB":-61.5},{"panel":"D","freq":98.8,"dB":-67.2},{"panel":"D","freq":100.1,"dB":-73.9},{"panel":"D","freq":102.1,"dB":-62.5},{"panel":"D","freq":103.8,"dB":-49.4},{"panel":"D","freq":105.9,"dB":-43.5},{"panel":"D","freq":107.7,"dB":-48.5},{"panel":"D","freq":110.1,"dB":-54.1},{"panel":"D","freq":113.8,"dB":-57.8},{"panel":"D","freq":117.5,"dB":-61.5},{"panel":"D","freq":121.4,"dB":-66.2},{"panel":"D","freq":126.0,"dB":-72.0},{"panel":"D","freq":129.6,"dB":-68.1},{"panel":"D","freq":133.9,"dB":-62.9},{"panel":"D","freq":138.3,"dB":-57.8},{"panel":"D","freq":141.3,"dB":-53.1},{"panel":"D","freq":144.1,"dB":-45.2},{"panel":"D","freq":147.0,"dB":-53.1},{"panel":"D","freq":150.2,"dB":-62.5},{"panel":"D","freq":154.2,"dB":-75.1},{"panel":"D","freq":156.9,"dB":-66.2},{"panel":"D","freq":159.3,"dB":-62.5},{"panel":"D","freq":163.8,"dB":-58.7},{"panel":"D","freq":168.1,"dB":-56.4},
{"panel":"D","freq":173.7,"dB":-54.3},{"panel":"D","freq":177.5,"dB":-53.0},{"panel":"D","freq":181.4,"dB":-51.3},{"panel":"D","freq":185.4,"dB":-49.4},{"panel":"D","freq":190.3,"dB":-45.7},{"panel":"D","freq":193.6,"dB":-41.9},{"panel":"D","freq":196.6,"dB":-37.7},{"panel":"D","freq":198.8,"dB":-38.2},{"panel":"D","freq":200.5,"dB":-48.5},{"panel":"D","freq":202.2,"dB":-54.5},{"panel":"D","freq":205.3,"dB":-48.5},{"panel":"D","freq":209.0,"dB":-40.1},{"panel":"D","freq":212.6,"dB":-33.5},{"panel":"D","freq":215.9,"dB":-25.6},{"panel":"D","freq":219.6,"dB":-33.5},{"panel":"D","freq":223.0,"dB":-40.1},{"panel":"D","freq":227.9,"dB":-44.7},{"panel":"D","freq":232.9,"dB":-48.5},{"panel":"D","freq":238.0,"dB":-52.2},{"panel":"D","freq":243.3,"dB":-56.9},{"panel":"D","freq":247.0,"dB":-62.5},{"panel":"D","freq":250.2,"dB":-70.0},{"panel":"D","freq":252.4,"dB":-82.1},{"panel":"D","freq":255.7,"dB":-66.2},{"panel":"D","freq":258.5,"dB":-57.8},{"panel":"D","freq":262.5,"dB":-50.3},{"panel":"D","freq":267.1,"dB":-43.8},{"panel":"D","freq":271.2,"dB":-37.3},{"panel":"D","freq":275.3,"dB":-31.0},{"panel":"D","freq":278.9,"dB":-36.3},{"panel":"D","freq":283.2,"dB":-41.0},{"panel":"D","freq":287.6,"dB":-44.7},{"panel":"D","freq":293.8,"dB":-47.5},{"panel":"D","freq":302.2,"dB":-50.3},{"panel":"D","freq":312.3,"dB":-52.2},{"panel":"D","freq":319.1,"dB":-53.1},{"panel":"D","freq":322.6,"dB":-55.5},{"panel":"D","freq":329.7,"dB":-56.9},{"panel":"D","freq":340.6,"dB":-58.7},{"panel":"D","freq":349.6,"dB":-61.1},{"panel":"D","freq":359.6,"dB":-63.9},{"panel":"D","freq":367.5,"dB":-66.2},{"panel":"D","freq":375.6,"dB":-69.0},{"panel":"D","freq":382.2,"dB":-71.4},{"panel":"D","freq":386.3,"dB":-70.9},{"panel":"D","freq":392.3,"dB":-62.5},{"panel":"D","freq":399.2,"dB":-55.8},{"panel":"D","freq":405.3,"dB":-64.4},{"panel":"D","freq":411.5,"dB":-71.8},{"panel":"D","freq":416.9,"dB":-72.0},{"panel":"D","freq":423.2,"dB":-69.0},{"panel":"D","freq":432.5,"dB":-64.8},{"panel":"D","freq":442.0,"dB":-60.6},{"panel":"D","freq":451.6,"dB":-56.1},{"panel":"D","freq":457.4,"dB":-62.5},{"panel":"D","freq":462.5,"dB":-69.3},{"panel":"D","freq":467.5,"dB":-65.3},{"panel":"D","freq":473.7,"dB":-62.5},{"panel":"D","freq":482.0,"dB":-61.1},{"panel":"D","freq":490.4,"dB":-58.7},{"panel":"D","freq":497.9,"dB":-54.5},{"panel":"D","freq":505.6,"dB":-52.7},{"panel":"D","freq":514.5,"dB":-49.4},{"panel":"D","freq":522.4,"dB":-44.7},{"panel":"D","freq":528.0,"dB":-53.1},{"panel":"D","freq":534.9,"dB":-71.1},{"panel":"D","freq":540.9,"dB":-62.5},{"panel":"D","freq":549.2,"dB":-57.8},{"panel":"D","freq":561.2,"dB":-53.1},{"panel":"D","freq":571.0,"dB":-47.5},
{"panel":"D","freq":579.8,"dB":-41.0},{"panel":"D","freq":586.1,"dB":-45.7},{"panel":"D","freq":591.2,"dB":-56.9},{"panel":"D","freq":596.4,"dB":-73.5},{"panel":"D","freq":602.9,"dB":-62.5},{"panel":"D","freq":612.1,"dB":-55.9},{"panel":"D","freq":625.5,"dB":-52.2},{"panel":"D","freq":639.2,"dB":-48.5},{"panel":"D","freq":653.3,"dB":-43.8},{"panel":"D","freq":664.7,"dB":-39.1},{"panel":"D","freq":671.9,"dB":-45.7},{"panel":"D","freq":677.8,"dB":-53.1},{"panel":"D","freq":682.2,"dB":-50.3},{"panel":"D","freq":686.7,"dB":-55.0},{"panel":"D","freq":692.6,"dB":-59.2},{"panel":"D","freq":700.2,"dB":-53.6},{"panel":"D","freq":707.9,"dB":-54.5},{"panel":"D","freq":717.1,"dB":-50.3},{"panel":"D","freq":728.1,"dB":-47.5},{"panel":"D","freq":744.1,"dB":-43.8},{"panel":"D","freq":755.4,"dB":-40.1},{"panel":"D","freq":765.4,"dB":-30.3},{"panel":"D","freq":777.2,"dB":-38.2},{"panel":"D","freq":789.1,"dB":-49.4},{"panel":"D","freq":802.8,"dB":-60.8},{"panel":"D","freq":815.1,"dB":-53.1},{"panel":"D","freq":827.6,"dB":-39.1},{"panel":"D","freq":838.5,"dB":-40.1},{"panel":"D","freq":849.6,"dB":-30.7},{"panel":"D","freq":860.6,"dB":-39.1},{"panel":"D","freq":872.0,"dB":-40.5},{"panel":"D","freq":885.4,"dB":-44.3},{"panel":"D","freq":904.9,"dB":-48.5},{"panel":"D","freq":920.9,"dB":-48.9},{"panel":"D","freq":938.8,"dB":-53.1},{"panel":"D","freq":957.4,"dB":-59.0},{"panel":"D","freq":972.1,"dB":-49.4},{"panel":"D","freq":984.9,"dB":-51.3},{"panel":"D","freq":1002.0,"dB":-55.0},{"panel":"D","freq":1019.6,"dB":-58.7},{"panel":"D","freq":1037.4,"dB":-64.4},{"panel":"D","freq":1046.5,"dB":-70.0},{"panel":"D","freq":1057.9,"dB":-78.5},{"panel":"D","freq":1071.9,"dB":-68.1},{"panel":"D","freq":1088.3,"dB":-60.6},{"panel":"D","freq":1112.1,"dB":-54.1},{"panel":"D","freq":1136.5,"dB":-45.2},{"panel":"D","freq":1148.8,"dB":-54.1},{"panel":"D","freq":1164.0,"dB":-63.2},{"panel":"D","freq":1181.8,"dB":-53.1},{"panel":"D","freq":1199.9,"dB":-45.7},{"panel":"D","freq":1215.5,"dB":-42.6},{"panel":"D","freq":1226.2,"dB":-47.5},{"panel":"D","freq":1237.0,"dB":-53.1},{"panel":"D","freq":1253.2,"dB":-59.7},{"panel":"D","freq":1272.5,"dB":-49.4},{"panel":"D","freq":1294.7,"dB":-48.0},{"panel":"D","freq":1317.3,"dB":-43.8},{"panel":"D","freq":1340.5,"dB":-36.3},{"panel":"D","freq":1363.9,"dB":-27.5},{"panel":"D","freq":1381.9,"dB":-33.5},{"panel":"D","freq":1402.7,"dB":-40.1},{"panel":"D","freq":1424.2,"dB":-44.7},{"panel":"D","freq":1442.7,"dB":-50.3},{"panel":"D","freq":1468.5,"dB":-41.5},{"panel":"D","freq":1484.5,"dB":-42.9},{"panel":"D","freq":1507.1,"dB":-47.5},{"panel":"D","freq":1530.3,"dB":-50.8},{"panel":"D","freq":1546.9,"dB":-51.3},{"panel":"D","freq":1567.3,"dB":-55.0},{"panel":"D","freq":1591.3,"dB":-60.8},{"panel":"D","freq":1608.6,"dB":-53.1},{"panel":"D","freq":1629.6,"dB":-41.9},{"panel":"D","freq":1654.5,"dB":-46.6},{"panel":"D","freq":1679.9,"dB":-55.0},{"panel":"D","freq":1698.2,"dB":-63.4},{"panel":"D","freq":1709.1,"dB":-55.9},{"panel":"D","freq":1724.1,"dB":-64.4},{"panel":"D","freq":1750.6,"dB":-71.8},{"panel":"D","freq":1765.8,"dB":-55.9},{"panel":"D","freq":1784.9,"dB":-55.0},{"panel":"D","freq":1800.5,"dB":-57.8},{"panel":"D","freq":1819.9,"dB":-63.1},{"panel":"D","freq":1840.6,"dB":-55.0},{"panel":"D","freq":1864.5,"dB":-45.7},{"panel":"D","freq":1893.1,"dB":-38.2},{"panel":"D","freq":1921.8,"dB":-45.7},{"panel":"D","freq":1942.8,"dB":-50.3},{"panel":"D","freq":1955.4,"dB":-47.5},{"panel":"D","freq":1976.7,"dB":-48.5},{"panel":"D","freq":1998.3,"dB":-49.9}
]},
"data": {"name": "d"},
"columns": 2,
"spacing": {"row": 8, "column": 37},
"concat": [
{"title": "Initial Bracing", "width": 566, "height": 286,
 "transform": [{"filter": "datum.panel == 'A'"}],
 "mark": {"type": "line"},
 "encoding": {
  "x": {"field": "freq", "type": "quantitative", "title": "Frequency (Hz)", "scale": {"type": "log", "domain": [50, 2000], "nice": false},
        "axis": {"values": [50,60,70,80,90,100,200,300,400,500,600,700,800,900,1000,2000], "labelExpr": "datum.value == 100 ? '10²' : (datum.value == 1000 ? '10³' : '')", "labelOverlap": false, "gridDash": {"condition": {"test": "datum.value == 100 || datum.value == 1000", "value": []}, "value": [2, 2]}, "gridOpacity": {"condition": {"test": "datum.value == 50 || datum.value == 2000", "value": 0}, "value": 1}}},
  "y": {"field": "dB", "type": "quantitative", "title": "Admittance (dB) (m s⁻¹ N⁻¹)", "scale": {"domain": [-100, -20], "nice": false},
        "axis": {"values": [-100,-80,-60,-40,-20], "labelExpr": "'' + datum.value", "gridOpacity": {"condition": {"test": "datum.value == -100 || datum.value == -20", "value": 0}, "value": 1}}}
 }},
{"title": "Intermediate Carving Step 1", "width": 566, "height": 286,
 "transform": [{"filter": "datum.panel == 'B'"}],
 "mark": {"type": "line"},
 "encoding": {
  "x": {"field": "freq", "type": "quantitative", "title": "Frequency (Hz)", "scale": {"type": "log", "domain": [50, 2000], "nice": false},
        "axis": {"values": [50,60,70,80,90,100,200,300,400,500,600,700,800,900,1000,2000], "labelExpr": "datum.value == 100 ? '10²' : (datum.value == 1000 ? '10³' : '')", "labelOverlap": false, "gridDash": {"condition": {"test": "datum.value == 100 || datum.value == 1000", "value": []}, "value": [2, 2]}, "gridOpacity": {"condition": {"test": "datum.value == 50 || datum.value == 2000", "value": 0}, "value": 1}}},
  "y": {"field": "dB", "type": "quantitative", "title": "Admittance (dB) (m s⁻¹ N⁻¹)", "scale": {"domain": [-100, -20], "nice": false},
        "axis": {"values": [-100,-80,-60,-40,-20], "labelExpr": "'' + datum.value", "gridOpacity": {"condition": {"test": "datum.value == -100 || datum.value == -20", "value": 0}, "value": 1}}}
 }},
{"title": "Intermediate Carving Step 2", "width": 566, "height": 286,
 "transform": [{"filter": "datum.panel == 'C'"}],
 "mark": {"type": "line"},
 "encoding": {
  "x": {"field": "freq", "type": "quantitative", "title": "Frequency (Hz)", "scale": {"type": "log", "domain": [50, 2000], "nice": false},
        "axis": {"values": [50,60,70,80,90,100,200,300,400,500,600,700,800,900,1000,2000], "labelExpr": "datum.value == 100 ? '10²' : (datum.value == 1000 ? '10³' : '')", "labelOverlap": false, "gridDash": {"condition": {"test": "datum.value == 100 || datum.value == 1000", "value": []}, "value": [2, 2]}, "gridOpacity": {"condition": {"test": "datum.value == 50 || datum.value == 2000", "value": 0}, "value": 1}}},
  "y": {"field": "dB", "type": "quantitative", "title": "Admittance (dB) (m s⁻¹ N⁻¹)", "scale": {"domain": [-100, -20], "nice": false},
        "axis": {"values": [-100,-80,-60,-40,-20], "labelExpr": "'' + datum.value", "gridOpacity": {"condition": {"test": "datum.value == -100 || datum.value == -20", "value": 0}, "value": 1}}}
 }},
{"title": "Final Carved Braces", "width": 566, "height": 286,
 "transform": [{"filter": "datum.panel == 'D'"}],
 "mark": {"type": "line"},
 "encoding": {
  "x": {"field": "freq", "type": "quantitative", "title": "Frequency (Hz)", "scale": {"type": "log", "domain": [50, 2000], "nice": false},
        "axis": {"values": [50,60,70,80,90,100,200,300,400,500,600,700,800,900,1000,2000], "labelExpr": "datum.value == 100 ? '10²' : (datum.value == 1000 ? '10³' : '')", "labelOverlap": false, "gridDash": {"condition": {"test": "datum.value == 100 || datum.value == 1000", "value": []}, "value": [2, 2]}, "gridOpacity": {"condition": {"test": "datum.value == 50 || datum.value == 2000", "value": 0}, "value": 1}}},
  "y": {"field": "dB", "type": "quantitative", "title": "Admittance (dB) (m s⁻¹ N⁻¹)", "scale": {"domain": [-100, -20], "nice": false},
        "axis": {"values": [-100,-80,-60,-40,-20], "labelExpr": "'' + datum.value", "gridOpacity": {"condition": {"test": "datum.value == -100 || datum.value == -20", "value": 0}, "value": 1}}}
 }}
]
}
